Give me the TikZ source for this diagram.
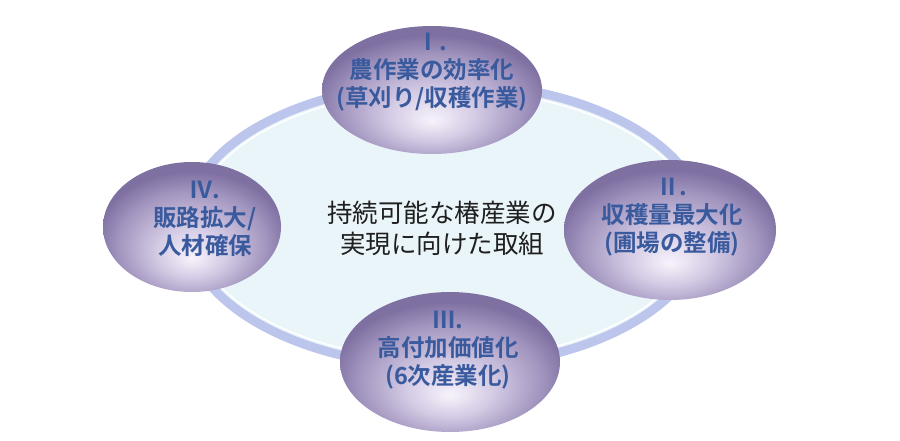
\documentclass[tikz,border=0pt]{standalone}
\usepackage{fontspec}
\usetikzlibrary{shapes.geometric}
\newfontfamily\jpbold{Noto Sans CJK JP Bold}
\newfontfamily\jpreg{Noto Sans CJK JP}
\definecolor{ringc}{HTML}{BCC5EC}
\definecolor{ringfill}{HTML}{EAF5FA}
\definecolor{txtblue}{HTML}{3A5A9E}
\definecolor{pl}{HTML}{F7F3FB}
\definecolor{pm}{HTML}{D3CAE4}
\definecolor{pd}{HTML}{A194BE}
\definecolor{pe}{HTML}{7F70A2}
\pgfdeclareradialshading{purp}{\pgfpoint{0bp}{-12bp}}{color(0bp)=(pl); color(10bp)=(pm); color(21bp)=(pd); color(27bp)=(pe); color(50bp)=(pe)}
\tikzset{
  bub/.style={ellipse, shading=purp, inner sep=0pt},
  bubtext/.style={font=\jpbold\fontsize{23.5}{28}\selectfont, text=txtblue, align=center, inner sep=0pt},
  ctext/.style={font=\jpreg\fontsize{25.5}{31}\selectfont, text=black!88, align=center, inner sep=0pt}
}
\begin{document}
\begin{tikzpicture}[x=1pt,y=-1pt]
\useasboundingbox (0,0) rectangle (900,441);
\fill[white] (0,0) rectangle (900,441);
% ring
\node[ellipse, draw=ringc, fill=ringfill, line width=9pt, minimum width=518pt, minimum height=284pt, inner sep=0pt] (ring) at (445,225) {};
\draw[white, line width=1.5pt] (ring.center) ellipse [x radius=252pt, y radius=135pt];
% bubbles
\node[bub, minimum width=220pt, minimum height=128pt] (e1) at (432,90) {};
\node[bub, minimum width=212pt, minimum height=140pt] (e2) at (670,230) {};
\node[bub, minimum width=220pt, minimum height=140pt] (e3) at (450,362) {};
\node[bub, minimum width=178pt, minimum height=130pt] (e4) at (192,227) {};
% texts
\node[bubtext] (t1) at (432,72) {Ⅰ.\\農作業の効率化\\(草刈り/収穫作業)};
\node[bubtext] (t2) at (672,217) {Ⅱ.\\収穫量最大化\\(圃場の整備)};
\node[bubtext] (t3) at (448,350) {Ⅲ.\\高付加価値化\\(6次産業化)};
\node[bubtext] (t4) at (205,219) {Ⅳ.\\販路拡大/\\人材確保};
\node[ctext] (c) at (442,228) {持続可能な椿産業の\\実現に向けた取組};
\end{tikzpicture}
\end{document}
